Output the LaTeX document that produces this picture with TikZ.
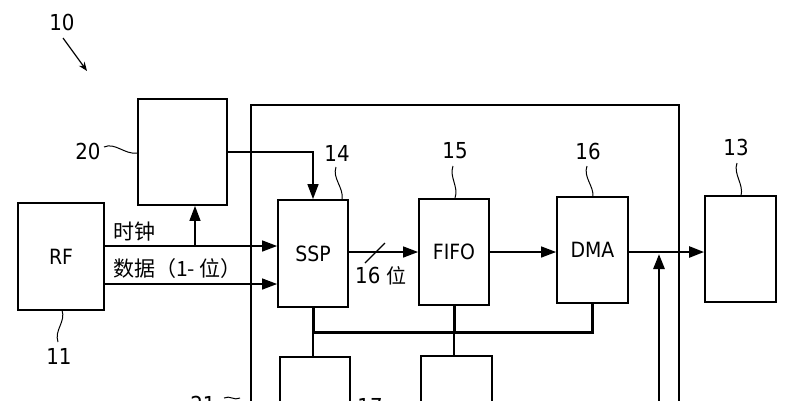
\documentclass[tikz,border=0pt]{standalone}
\usepackage{fontspec}
\setmainfont{DejaVu Sans Condensed}
\newfontfamily\cjk{Noto Sans CJK SC}
\usetikzlibrary{arrows.meta}
\begin{document}
\begin{tikzpicture}[x=1pt,y=-1pt,
  box/.style={draw,line width=1.8pt,inner sep=0pt,font=\fontsize{21}{23}\selectfont},
  conn/.style={line width=1.3pt},
  thick bus/.style={line width=3pt},
  tip/.style={-{Triangle[length=15pt,width=11pt]}},
  lbl/.style={font=\fontsize{22}{24}\selectfont,inner sep=0pt},
  zh/.style={font=\cjk\fontsize{21}{23}\selectfont,inner sep=0pt},
  leader/.style={line width=1pt}]
\useasboundingbox (0,0) rectangle (791,400);
\clip (0,0) rectangle (791,400);
% big enclosure
\draw[line width=1.8pt] (251,520) -- (251,105) -- (679,105) -- (679,520);
% boxes
\node[box,minimum width=89pt,minimum height=106pt] (b20) at (182.5,152) {};
\node[box,minimum width=86pt,minimum height=107pt] (rf) at (61,256.5) {RF};
\node[box,minimum width=70pt,minimum height=107pt] (ssp) at (313,253.5) {SSP};
\node[box,minimum width=70pt,minimum height=106pt] (fifo) at (454,252) {FIFO};
\node[box,minimum width=71pt,minimum height=106pt] (dma) at (592.5,250) {DMA};
\node[box,minimum width=71pt,minimum height=106pt] (b13) at (740.5,249) {};
\node[box,minimum width=70pt,minimum height=100pt] (b17) at (315,407) {};
\node[box,minimum width=71pt,minimum height=100pt] (b18) at (456.5,406) {};
% labels
\node[lbl] (l10) at (62,22) {10};
\node[lbl] (l20) at (88,151) {20};
\node[lbl] (l11) at (59,356) {11};
\node[lbl] (l14) at (337,153) {14};
\node[lbl] (l15) at (455,151) {15};
\node[lbl] (l16) at (588,151) {16};
\node[lbl] (l13) at (736,147) {13};
\node[lbl] (l21) at (203,404) {21};
\node[lbl] (l17) at (370,406) {17};
% leaders
\draw[-{Stealth[length=9pt,width=7pt]},line width=1.2pt] (63,38) -- (87,71);
\draw[leader] (104,147) .. controls (115,142) and (125,155) .. (b20.west |- 0,153);
\draw[leader] (62,310) .. controls (66,322) and (54,330) .. (58,342);
\draw[leader] (336,167) .. controls (332,178) and (344,188) .. (342,199);
\draw[leader] (453,166) .. controls (449,177) and (459,187) .. (455,198);
\draw[leader] (587,166) .. controls (583,177) and (594,186) .. (593,197);
\draw[leader] (737,163) .. controls (733,174) and (744,184) .. (741,196);
\draw[leader] (224,398) .. controls (230,395) and (234,401) .. (240,398);
% clock / data
\coordinate (br) at (195,246);
\draw[conn,tip] (rf.east |- 0,246) -- (ssp.west |- 0,246);
\draw[conn,tip] (br) -- (b20.south -| br);
\draw[conn,tip] (rf.east |- 0,284) -- (ssp.west |- 0,284);
\node[zh,anchor=base west] (tclk) at (113,239) {时钟};
\node[zh,anchor=base west] (tdat) at (113,276) {数据（1-\ 位）};
% 20 -> SSP
\draw[conn,tip] (b20.east |- 0,152) -- (ssp.north |- 0,152) -- (ssp.north);
% SSP -> FIFO
\draw[conn,tip] (ssp.east |- 0,252) -- (fifo.west |- 0,252);
\draw[conn] (365,263) -- (385,243);
\node[lbl,anchor=base west] (t16) at (355,283) {16\ {\cjk\fontsize{20}{22}\selectfont 位}};
% FIFO -> DMA
\draw[conn,tip] (fifo.east |- 0,252) -- (dma.west |- 0,252);
% DMA -> 13
\draw[line width=2.4pt,tip] (dma.east |- 0,252) -- (b13.west |- 0,252);
\coordinate (vin) at (659,420);
\draw[line width=2.8pt,tip] (vin) -- (659,254);
% bus
\draw[thick bus] (ssp.south) -- (313,332) -- (dma.south |- 0,332) -- (dma.south);
\draw[thick bus] (fifo.south) -- (fifo.south |- 0,332);
\draw[line width=2pt] (313,332) -- (b17.north -| 313,0);
\draw[line width=2pt] (fifo.south |- 0,332) -- (b18.north -| fifo.south);
\end{tikzpicture}
\end{document}
